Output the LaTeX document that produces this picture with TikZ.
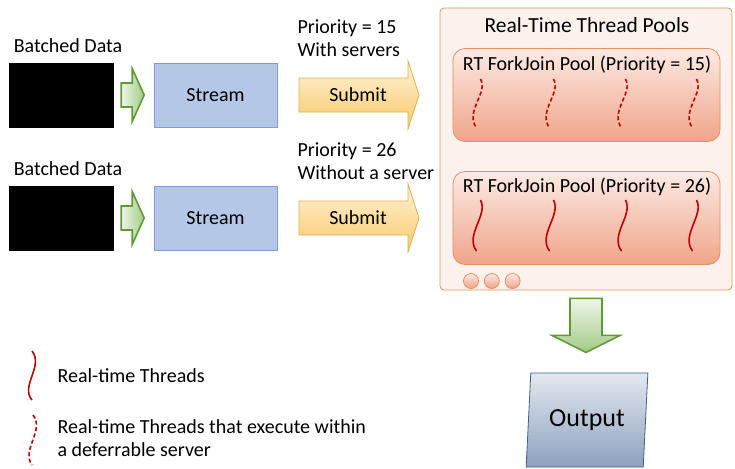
\documentclass[tikz,border=0pt]{standalone}
\usepackage{fontspec}
\setmainfont{Carlito}
\usetikzlibrary{positioning, calc, shapes.geometric}

\definecolor{streamfill}{HTML}{B4C7E7}
\definecolor{streamline}{HTML}{7F9FD3}
\definecolor{greenline}{HTML}{5E9B36}
\definecolor{greenlight}{HTML}{EEF5E8}
\definecolor{greendark}{HTML}{A3CB86}
\definecolor{submitline}{HTML}{DDB24A}
\definecolor{submittop}{HTML}{FFF4DA}
\definecolor{submitbot}{HTML}{FAC868}
\definecolor{poolline}{HTML}{E0925F}
\definecolor{poolbg}{HTML}{FDF1EE}
\definecolor{pooltop}{HTML}{FCEAE4}
\definecolor{poolbot}{HTML}{F0A489}
\definecolor{threadred}{HTML}{C00000}
\definecolor{outtop}{HTML}{E4E8EF}
\definecolor{outbot}{HTML}{8CA1BF}
\definecolor{outline}{HTML}{3E5F8A}

\tikzset{
  databox/.style={draw=black, fill=black, minimum width=104pt, minimum height=64pt, inner sep=0pt},
  streambox/.style={draw=streamline, fill=streamfill, thick, minimum width=123pt, minimum height=64pt},
  greenarrow/.style={draw=greenline, line width=1.6pt, left color=greenlight, right color=greendark},
  submitarrow/.style={draw=submitline, thick, top color=submittop, bottom color=submitbot},
  poolbox/.style={draw=poolline, thick, rounded corners=12pt, top color=pooltop, bottom color=poolbot,
    minimum width=267pt, minimum height=93pt},
  dot/.style={circle, draw=poolline, thick, top color=pooltop, bottom color=poolbot, minimum size=15pt, inner sep=0pt},
  thread/.style={draw=threadred, line width=1.6pt},
  dthread/.style={thread, dash pattern=on 4pt off 2.5pt}
}

\begin{document}
\begin{tikzpicture}[x=1pt, y=-1pt, font=\fontsize{20}{23}\selectfont, line join=miter]
  \useasboundingbox (0,0) rectangle (735,468);

  % input side
  \node[databox] (data1) at (61,95) {};
  \node[databox] (data2) at (61,218) {};
  \node (lbl1) at (68,46) {Batched Data};
  \node (lbl2) at (68,169) {Batched Data};
  \node[streambox] (stream1) at (215.5,95) {Stream};
  \node[streambox] (stream2) at (215.5,218) {Stream};

  \foreach \n in {1,2} {
    \begin{scope}[shift={(data\n.east)}]
      \path[greenarrow] (8,-12) -- (19,-12) -- (19,-26.5) -- (31,0) -- (19,26.5) -- (19,12) -- (8,12) -- cycle;
    \end{scope}
  }

  % submit arrows
  \node[anchor=west, align=left] (prio1) at (294,38.5) {Priority = 15\\With servers};
  \node[anchor=west, align=left] (prio2) at (294,161.5) {Priority = 26\\Without a server};
  \path[submitarrow] (299,78) -- (408,78) -- (408,61) -- (419,95) -- (408,129) -- (408,112) -- (299,112) -- cycle;
  \path[submitarrow] (299,201) -- (408,201) -- (408,184) -- (419,218) -- (408,252) -- (408,235) -- (299,235) -- cycle;
  \node (sub1) at (358,95) {Submit};
  \node (sub2) at (358,218) {Submit};

  % thread pools
  \node[draw=poolline, fill=poolbg, thick, rounded corners=4pt, minimum width=292pt, minimum height=282pt] (pools) at (586,149) {};
  \node[font=\fontsize{21.5}{25}\selectfont] (poolstitle) at (587,25) {Real-Time Thread Pools};
  \node[poolbox] (pool1) at (586.5,95) {};
  \node[poolbox] (pool2) at (586.5,218) {};
  \node (pool1title) at (587,65) {RT ForkJoin Pool (Priority = 15)};
  \node (pool2title) at (587,187) {RT ForkJoin Pool (Priority = 26)};

  \foreach \dx in {-110,-37,35,106} {
    \begin{scope}[shift={(pool1.center)}]
      \draw[dthread] (\dx+4,-16) .. controls (\dx+12,-2) and (\dx-12,16) .. (\dx,33);
    \end{scope}
    \begin{scope}[shift={(pool2.center)}]
      \draw[thread] (\dx+4,-18) .. controls (\dx+12,-3) and (\dx-12,17) .. (\dx,33);
    \end{scope}
  }

  \node[dot] (dot1) at (471,281) {};
  \node[dot, right=5pt of dot1] (dot2) {};
  \node[dot, right=5pt of dot2] (dot3) {};

  % output
  \begin{scope}[shift={(pools.south)}]
    \path[greenarrow, top color=greenlight, bottom color=greendark] (-16,8) -- (16,8) -- (16,45) -- (34,45) -- (0,62) -- (-34,45) -- (-16,45) -- cycle;
  \end{scope}
  \node[trapezium, trapezium left angle=83, trapezium right angle=97, trapezium stretches=true,
    draw=outline, thick, top color=outtop, bottom color=outbot,
    minimum width=122pt, minimum height=94pt, font=\fontsize{26}{30}\selectfont] (output) at (587,420) {Output};

  % legend
  \draw[thread] (32,351) .. controls (44,366) and (20,386) .. (32,400);
  \node[anchor=west] (legsolid) at (54,376) {Real-time Threads};
  \draw[dthread] (33,415) .. controls (45,430) and (21,450) .. (32,465);
  \node[anchor=west, align=left] (legdashed) at (54,438.5) {Real-time Threads that execute within\\a deferrable server};
\end{tikzpicture}
\end{document}
